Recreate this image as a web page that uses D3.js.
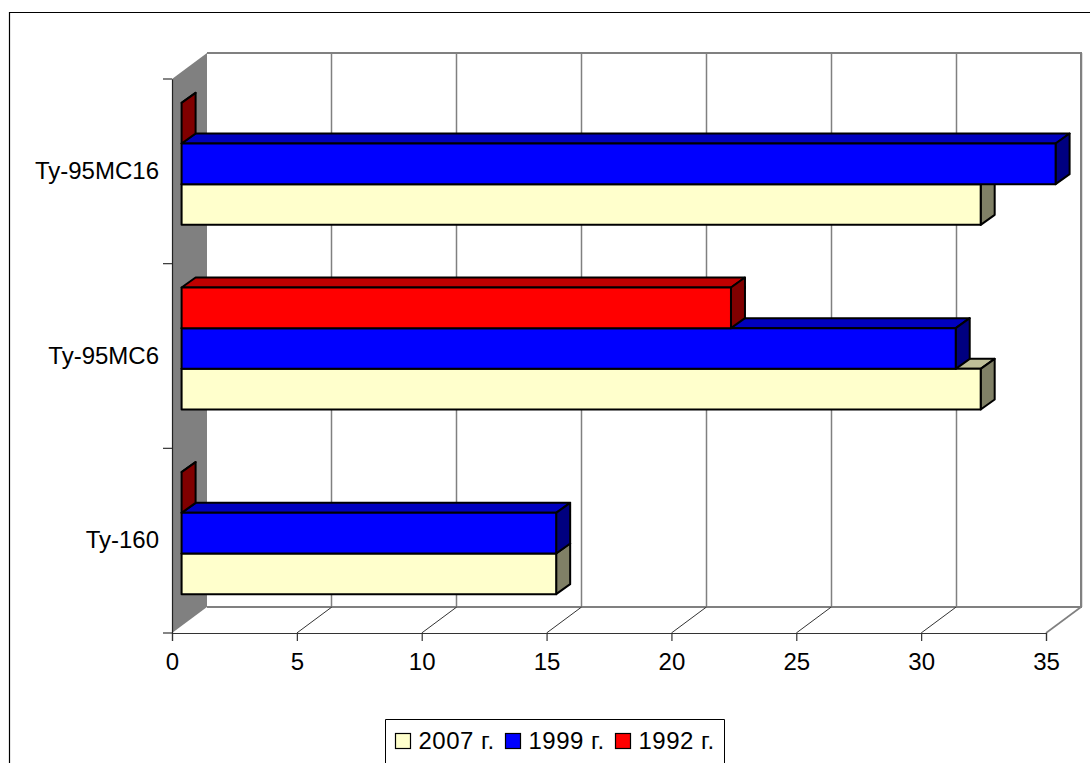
<!DOCTYPE html>
<html>
<head>
<meta charset="utf-8">
<script src="https://cdn.jsdelivr.net/npm/d3@7"></script>
<style>
  body { margin: 0; background: #fff; }
  svg { display: block; }
  text { font-family: "Liberation Sans", Arial, sans-serif; font-size: 24px; fill: #000; }
</style>
</head>
<body>
<script>
// values
var categories = ["Ту-160", "Ту-95МС6", "Ту-95МС16"];
var years = ["2007 г.", "1999 г.", "1992 г."];
var values2007 = [15, 32, 32];
var values1999 = [15, 31, 35];
var values1992 = [0, 22, 0];
var xTicks = [0, 5, 10, 15, 20, 25, 30, 35];
var colors = ["#ffffcc", "#0000ff", "#ff0000"];

var width = 1090, height = 763;

// front plane of the 3d box + how far the back wall is shifted
var depth = { x: 35, y: -26 };
var barDepth = { x: 14, y: -10 };
var barShift = { x: 9.6, y: -7.5 };

var x = d3.scaleLinear().domain([0, 35]).range([172, 1046]);
var y = d3.scaleBand().domain(categories).range([633, 79]);
var inner = d3.scaleBand().domain(years).range([y.bandwidth(), 0]).paddingOuter(0.77).paddingInner(0);

var svg = d3.select("body").append("svg").attr("width", width).attr("height", height);

// outer border, runs off the right and bottom of the picture
svg.append("path")
  .attr("d", "M9.5," + height + "V12.5H" + width)
  .attr("fill", "none")
  .attr("stroke", "#000")
  .attr("stroke-width", 1.2);

var line = d3.line();

// back wall
var x0 = x(0), x1 = x(35), yTop = y.range()[1], yBottom = y.range()[0];
svg.append("path")
  .attr("d", "M" + (x0 + depth.x) + "," + (yTop + depth.y) + "H" + (x1 + depth.x) + "V" + (yBottom + depth.y) + "H" + (x0 + depth.x))
  .attr("fill", "#fff")
  .attr("stroke", "#808080")
  .attr("stroke-width", 2);

// left wall
svg.append("path")
  .attr("d", line([[x0, yTop], [x0 + depth.x, yTop + depth.y], [x0 + depth.x, yBottom + depth.y], [x0, yBottom]]) + "Z")
  .attr("fill", "#808080");

// grid lines on the wall and on the floor
var grid = svg.append("g");
grid.selectAll(".wall")
  .data(xTicks.slice(1))
  .enter()
  .append("line")
  .attr("class", "wall")
  .attr("x1", (d) => Math.floor(x(d) + depth.x) + 0.5)
  .attr("x2", (d) => Math.floor(x(d) + depth.x) + 0.5)
  .attr("y1", yTop + depth.y)
  .attr("y2", yBottom + depth.y)
  .attr("stroke", "#808080")
  .attr("stroke-width", 1.5);
grid.selectAll(".floor")
  .data(xTicks.slice(1))
  .enter()
  .append("line")
  .attr("class", "floor")
  .attr("x1", (d) => x(d))
  .attr("x2", (d) => x(d) + depth.x)
  .attr("y1", yBottom)
  .attr("y2", yBottom + depth.y)
  .attr("stroke", (d) => (d === 35 ? "#808080" : "#333"))
  .attr("stroke-width", (d) => (d === 35 ? 1.6 : 1));

// axes
var xAxis = svg.append("g")
  .attr("transform", "translate(0," + yBottom + ")")
  .call(d3.axisBottom(x).tickValues(xTicks).tickSize(8).tickPadding(12));
xAxis.selectAll("path, line").attr("stroke", "#333").attr("stroke-width", 1.2);
xAxis.attr("font-size", null).attr("font-family", null);

var yAxis = svg.append("g")
  .attr("transform", "translate(" + x0 + ",0)")
  .call(d3.axisLeft(y).tickSize(0).tickPadding(13));
yAxis.attr("font-size", null).attr("font-family", null);
yAxis.select("path").attr("stroke", "#222").attr("stroke-width", 1.2);

// y ticks sit between the categories
yAxis.selectAll(".edge")
  .data(d3.range(categories.length + 1))
  .enter()
  .append("line")
  .attr("class", "edge")
  .attr("x1", -9)
  .attr("x2", 0)
  .attr("y1", (d) => yBottom - d * y.step())
  .attr("y2", (d) => yBottom - d * y.step())
  .attr("stroke", "#333")
  .attr("stroke-width", 1.2);

// bars: every series is stacked bottom to top, so the top faces get hidden
var rows = [];
categories.forEach(function (c, i) {
  rows.push({ cat: c, year: years[0], value: values2007[i], color: colors[0] });
  rows.push({ cat: c, year: years[1], value: values1999[i], color: colors[1] });
  rows.push({ cat: c, year: years[2], value: values1992[i], color: colors[2] });
});

// same hue, darker on top and side faces
function shade(color, k) {
  var c = d3.rgb(color);
  return d3.rgb(c.r * k, c.g * k, c.b * k).formatHex();
}

var bar = svg.selectAll(".bar")
  .data(rows)
  .enter()
  .append("g")
  .attr("class", "bar")
  .attr("stroke", "#000")
  .attr("stroke-width", 2)
  .attr("stroke-linejoin", "round");

function corners(d) {
  var left = x(0) + barShift.x;
  var right = x(d.value) + barShift.x;
  var top = y(d.cat) + inner(d.year) + barShift.y;
  var bottom = top + inner.bandwidth();
  return { left: left, right: right, top: top, bottom: bottom };
}

bar.append("path")
  .attr("fill", (d) => shade(d.color, 0.75))
  .attr("d", function (d) {
    var c = corners(d);
    return line([[c.left, c.top], [c.left + barDepth.x, c.top + barDepth.y], [c.right + barDepth.x, c.top + barDepth.y], [c.right, c.top]]) + "Z";
  });

bar.append("path")
  .attr("fill", (d) => shade(d.color, 0.5))
  .attr("d", function (d) {
    var c = corners(d);
    return line([[c.right, c.top], [c.right + barDepth.x, c.top + barDepth.y], [c.right + barDepth.x, c.bottom + barDepth.y], [c.right, c.bottom]]) + "Z";
  });

bar.append("rect")
  .attr("fill", (d) => d.color)
  .attr("x", (d) => corners(d).left)
  .attr("y", (d) => corners(d).top)
  .attr("width", (d) => x(d.value) - x(0))
  .attr("height", inner.bandwidth());

// legend, its box is cut by the bottom of the picture
var legend = svg.append("g");
legend.append("path")
  .attr("d", "M385.5," + height + "V719.5H724.5V" + height)
  .attr("fill", "#fff")
  .attr("stroke", "#000")
  .attr("stroke-width", 1);

var legendX = d3.scalePoint().domain(years).range([395.5, 615.5]);

var item = legend.selectAll(".item")
  .data(years)
  .enter()
  .append("g")
  .attr("class", "item")
  .attr("transform", (d) => "translate(" + legendX(d) + ",733.5)");

item.append("rect")
  .attr("width", 15)
  .attr("height", 15)
  .attr("fill", (d, i) => colors[i])
  .attr("stroke", "#000")
  .attr("stroke-width", 1.2);

item.append("text")
  .attr("x", 23)
  .attr("y", 15)
  .attr("letter-spacing", 0.5)
  .text((d) => d);
</script>
</body>
</html>
